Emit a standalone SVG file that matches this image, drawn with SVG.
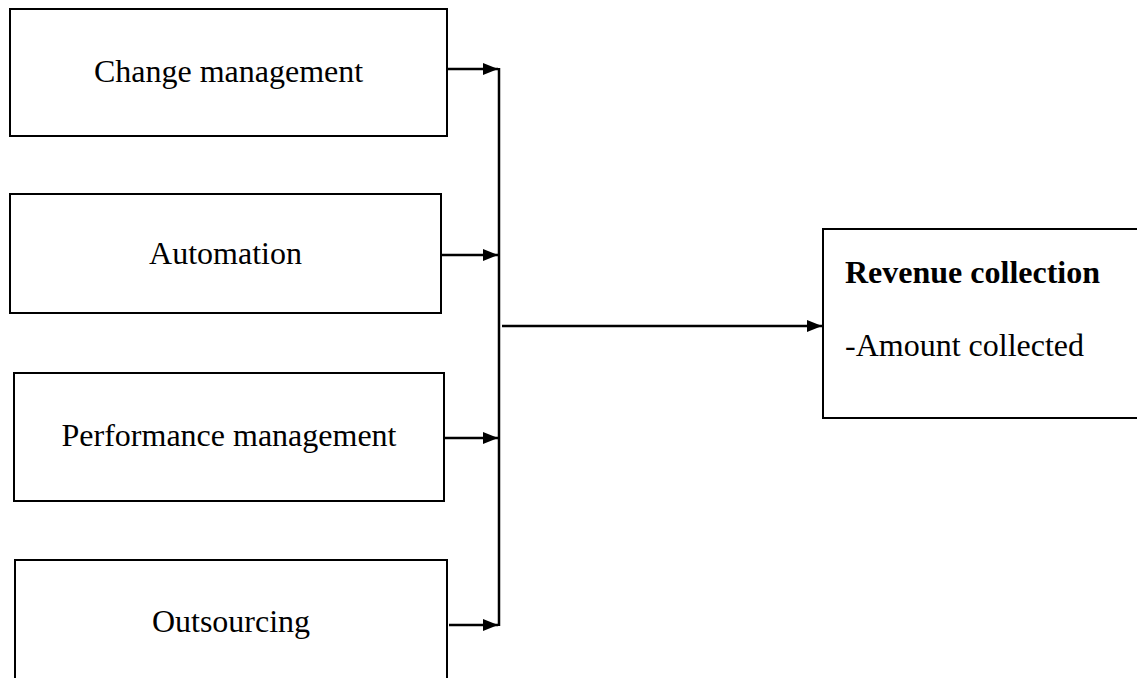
<svg xmlns="http://www.w3.org/2000/svg" width="1137" height="678" viewBox="0 0 1137 678">
<style>
.box{fill:#fff;stroke:#000;stroke-width:2}
.t{font-family:"Liberation Serif","Times New Roman",serif;font-size:32px;fill:#000}
.c{text-anchor:middle}
.b{font-weight:bold}
.ln{stroke:#000;stroke-width:2.5;fill:none}
</style>
<defs>
<marker id="ah" viewBox="0 0 15 12" refX="15" refY="6" markerWidth="15" markerHeight="12" markerUnits="userSpaceOnUse" orient="auto">
<path d="M0,0 L15,6 L0,12 z" fill="#000"/>
</marker>
</defs>
<rect width="1137" height="678" fill="#fff"/>
<g id="n1"><rect class="box" x="10" y="9" width="437" height="127"/><text class="t c" x="228.5" y="82">Change management</text></g>
<g id="n2"><rect class="box" x="10" y="194" width="431" height="119"/><text class="t c" x="225.5" y="264">Automation</text></g>
<g id="n3"><rect class="box" x="14" y="373" width="430" height="128"/><text class="t c" x="229" y="446">Performance management</text></g>
<g id="n4"><rect class="box" x="15" y="560" width="432" height="130"/><text class="t c" x="231" y="632">Outsourcing</text></g>
<g id="n5"><rect class="box" x="823" y="229" width="330" height="189"/><text class="t b" x="845" y="283">Revenue collection</text><text class="t" x="845" y="356">-Amount collected</text></g>
<g id="connectors">
<line class="ln" x1="447" y1="69" x2="498" y2="69" marker-end="url(#ah)"/>
<line class="ln" x1="441" y1="255" x2="498" y2="255" marker-end="url(#ah)"/>
<line class="ln" x1="444" y1="438" x2="498" y2="438" marker-end="url(#ah)"/>
<line class="ln" x1="449" y1="625" x2="498" y2="625" marker-end="url(#ah)"/>
<line class="ln" x1="499" y1="68" x2="499" y2="626"/>
<line class="ln" x1="502" y1="326" x2="822" y2="326" marker-end="url(#ah)"/>
</g>
</svg>
